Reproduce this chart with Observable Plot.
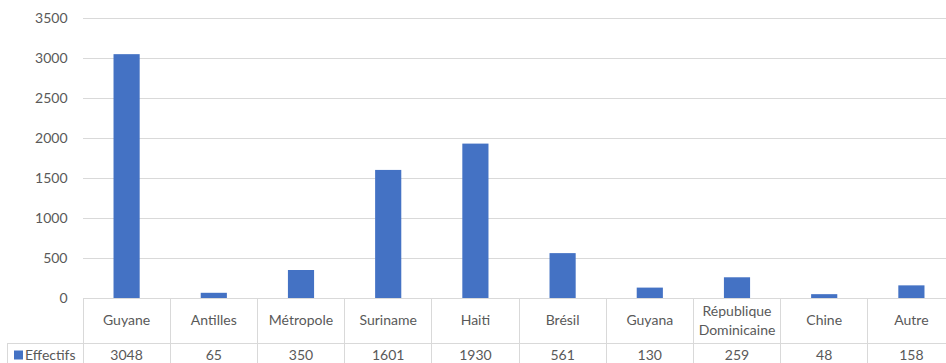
<!DOCTYPE html>
<html><head><meta charset="utf-8">
<script src="https://cdn.jsdelivr.net/npm/d3@7"></script>
<script src="https://cdn.jsdelivr.net/npm/@observablehq/plot@0.6"></script>
<style>html,body{margin:0;padding:0;background:#fff;overflow:hidden} svg{display:block}</style>
</head><body><div id="chart"></div>
<script>
const categories = ["Guyane","Antilles","Métropole","Suriname","Haiti","Brésil","Guyana","République\nDominicaine","Chine","Autre"];
const values = [3048,65,350,1601,1930,561,130,259,48,158];
const seriesName = "Effectifs";
const yTicks = [0,500,1000,1500,2000,2500,3000,3500];

const data = categories.map((c,i)=>({category:c, value:values[i], i}));
const FONT = "Lato, 'Liberation Sans', sans-serif";
const TEXT = "#595959", GRID = "#d9d9d9", BAR = "#4472c4";
const FS = 14;

function table(...args) {
  const scales = args.find(a => a && typeof a.x === "function" && typeof a.y === "function");
  const x = scales.x, y = scales.y;
  const g = d3.create("svg:g").attr("font-family", FONT).attr("font-size", FS).attr("fill", TEXT);
  const n = categories.length;
  const top = y(0), row1 = top + 45, bottom = row1 + 24;
  const left = x(0), right = x(n), legendLeft = 7;
  let d = `M${left},${top}H${right}M${legendLeft},${row1}H${right}M${legendLeft},${row1}V${bottom + 5}`;
  for (let i = 0; i <= n; i++) d += `M${x(i)},${top}V${bottom + 5}`;
  g.append("path").attr("stroke", GRID).attr("fill", "none").attr("shape-rendering", "crispEdges").attr("d", d);
  const mid1 = (top + row1) / 2, mid2 = (row1 + bottom) / 2;
  categories.forEach((c, i) => {
    const lines = c.split("\n");
    const t = g.append("text").attr("text-anchor", "middle");
    lines.forEach((l, k) => {
      t.append("tspan").attr("x", x(i + 0.5)).attr("y", mid1 + (k - (lines.length - 1) / 2) * 19).attr("dy", "0.35em").text(l);
    });
    g.append("text").attr("text-anchor", "middle").attr("x", x(i + 0.5)).attr("y", mid2).attr("dy", "0.35em").text(values[i]);
  });
  g.append("rect").attr("x", 14).attr("y", mid2 - 4.5).attr("width", 9).attr("height", 9).attr("fill", BAR);
  g.append("text").attr("text-anchor", "start").attr("x", 25).attr("y", mid2).attr("dy", "0.35em").text(seriesName);
  return g.node();
}

const chart = Plot.plot({
  width: 946, height: 363,
  marginLeft: 83, marginRight: 0, marginTop: 18, marginBottom: 65,
  style: {fontFamily: FONT, fontSize: FS + "px", color: TEXT, background: "#fff"},
  x: {domain: [0, categories.length], range: [83, 955], axis: null},
  y: {domain: [0, 3500], axis: null},
  marks: [
    Plot.gridY(yTicks, {stroke: GRID, strokeOpacity: 1}),
    Plot.axisY(yTicks, {tickSize: 0, tickPadding: 16, fill: TEXT, label: null, fontSize: FS, tickFormat: d => String(d)}),
    Plot.rectY(data, {x1: d => d.i + 0.35, x2: d => d.i + 0.65, y: "value", fill: BAR}),
    table
  ]
});
document.getElementById("chart").append(chart);
</script>
</body></html>
